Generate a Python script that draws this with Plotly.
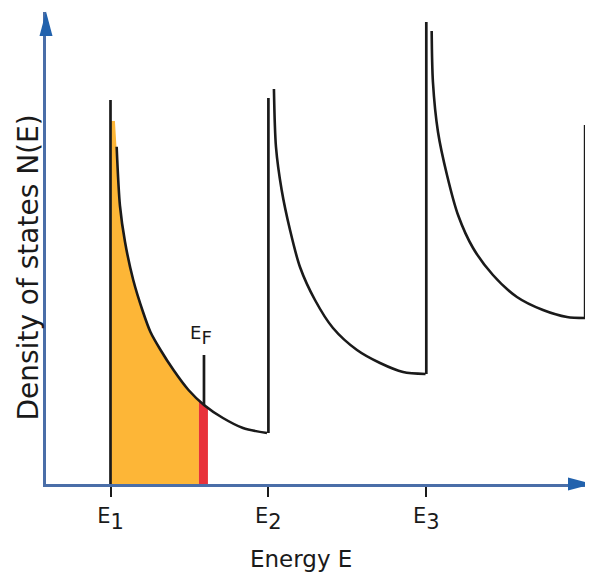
import plotly.graph_objects as go

# ---------------- data ----------------
# subband edges and their tick labels
E_levels = [1.0, 2.0, 3.0]
tick_labels = [
    "<span style='font-size:21px'>E</span><sub>1</sub>",
    "<span style='font-size:21px'>E</span><sub>2</sub>",
    "<span style='font-size:21px'>E</span><sub>3</sub>",
]

# vertical jumps of N(E) at each band edge (bottom -> top)
step_bottom = [0.0, 0.51, 1.10]
step_top = [3.84, 3.86, 4.62]
# closing vertical at the right end
E_end = 4.006
end_bottom = 1.66
end_top = 3.59

# decaying branches of N(E)
curve1_E = [1.039, 1.060, 1.092, 1.144, 1.206, 1.253, 1.317, 1.399, 1.494, 1.592, 1.712, 1.839, 1.991]
curve1_N = [3.373, 2.78, 2.42, 2.04, 1.72, 1.52, 1.34, 1.14, 0.94, 0.79, 0.66, 0.56, 0.51]

curve2_E = [2.035, 2.048, 2.084, 2.137, 2.200, 2.295, 2.409, 2.561, 2.707, 2.853, 2.995]
curve2_N = [3.95, 3.37, 2.94, 2.54, 2.17, 1.84, 1.56, 1.34, 1.21, 1.12, 1.10]

curve3_E = [3.034, 3.042, 3.074, 3.131, 3.201, 3.296, 3.422, 3.574, 3.739, 3.891, 4.005]
curve3_N = [4.53, 4.02, 3.52, 3.09, 2.69, 2.36, 2.09, 1.87, 1.74, 1.67, 1.66]

# Fermi level
E_F = 1.592
EF_marker_top = 1.29
EF_marker_bottom = 0.79

# filled (occupied) states
fill_top_N = 3.63
fill_top_E_right = 1.028
red_left_E, red_right_E = 1.560, 1.617
red_left_N, red_right_N = 0.83, 0.77

# ---------------- layout constants (page pixels) ----------------
OFF = 8                      # the page body margin that offsets the figure
PAGE_W, PAGE_H = 593, 572
AX_X, AX_Y = 46, 484         # where the axes meet on the page
TIP_X, TIP_Y = 592, 12       # arrow tips on the page
L = AX_X - OFF
T = TIP_Y - OFF
PW = TIP_X - AX_X
PH = AX_Y - TIP_Y
W = L + PW + 1
H = PAGE_H - OFF
B = H - T - PH
X_RANGE = [0.5915, 4.0494]
Y_RANGE = [0.0, 4.72]

AXIS_BLUE = "#4a6ea8"
ARROW_BLUE = "#2262ad"
INK = "#1a1a1a"
ORANGE = "#fdb637"
RED = "#e8323a"
FONT = "DejaVu Sans"


def px(xp, yp):
    """page pixel -> paper coordinates"""
    return (xp - AX_X) / PW, (AX_Y - yp) / PH


fig = go.Figure()

# orange occupied area
ox = [E_levels[0], E_levels[0], fill_top_E_right]
oy = [0.0, fill_top_N, fill_top_N]
for e, n in zip(curve1_E, curve1_N):
    if e < red_left_E:
        ox.append(e)
        oy.append(n)
ox += [red_left_E, red_left_E]
oy += [red_left_N, 0.0]
fig.add_trace(go.Scatter(x=ox, y=oy, fill="toself", fillcolor=ORANGE,
                         mode="lines", line=dict(width=0), hoverinfo="skip"))

# red strip at the Fermi level
fig.add_trace(go.Scatter(
    x=[red_left_E, red_left_E, E_F, red_right_E, red_right_E],
    y=[0.0, red_left_N, EF_marker_bottom, red_right_N, 0.0],
    fill="toself", fillcolor=RED, mode="lines", line=dict(width=0), hoverinfo="skip"))

# vertical jumps
vx, vy = [], []
for e, b, t in zip(E_levels, step_bottom, step_top):
    vx += [e, e, None]
    vy += [b, t, None]
vx += [E_end, E_end, None]
vy += [end_bottom, end_top, None]
vx += [E_F, E_F]
vy += [EF_marker_bottom, EF_marker_top]
fig.add_trace(go.Scatter(x=vx, y=vy, mode="lines",
                         line=dict(color=INK, width=2.7), hoverinfo="skip"))

# decaying branches
for ce, cn in [(curve1_E, curve1_N), (curve2_E, curve2_N), (curve3_E, curve3_N)]:
    fig.add_trace(go.Scatter(x=ce, y=cn, mode="lines",
                             line=dict(color=INK, width=2.6, shape="spline", smoothing=0.8),
                             hoverinfo="skip"))

# arrowheads
x0, y0 = px(592, 484)
xa, ya1 = px(568, 477.5)
_, ya2 = px(568, 490.5)
xt, yt = px(46, 11.5)
xb1, yb = px(39.5, 36)
xb2, _ = px(52.5, 36)
shapes = [
    dict(type="path", xref="paper", yref="paper",
         path=f"M {x0} {y0} L {xa} {ya1} L {xa} {ya2} Z",
         fillcolor=ARROW_BLUE, line=dict(width=0)),
    dict(type="path", xref="paper", yref="paper",
         path=f"M {xt} {yt} L {xb1} {yb} L {xb2} {yb} Z",
         fillcolor=ARROW_BLUE, line=dict(width=0)),
]

annotations = [
    dict(text="<span style='font-size:18px'>E</span><sub>F</sub>",
         x=E_F, xref="x", xshift=-3, y=px(0, 335)[1], yref="paper", yanchor="middle",
         showarrow=False, font=dict(family=FONT, size=26, color=INK)),
    dict(text="Energy E", x=px(301, 0)[0], xref="paper", y=px(0, 559)[1], yref="paper",
         yanchor="middle", showarrow=False, font=dict(family=FONT, size=23, color=INK)),
    dict(text="Density of states N(E)", textangle=-90,
         x=px(27.5, 0)[0], xref="paper", y=px(0, 268)[1], yref="paper",
         xanchor="center", yanchor="middle", showarrow=False,
         font=dict(family=FONT, size=28, color=INK)),
]

fig.update_layout(
    width=W, height=H,
    margin=dict(l=L, r=W - L - PW, t=T, b=B, autoexpand=False),
    paper_bgcolor="white", plot_bgcolor="white",
    showlegend=False,
    shapes=shapes, annotations=annotations,
    xaxis=dict(range=X_RANGE, showgrid=False, zeroline=False,
               showline=True, linecolor=AXIS_BLUE, linewidth=2.5,
               tickmode="array", tickvals=E_levels, ticktext=tick_labels,
               ticks="outside", ticklen=10, tickwidth=2, tickcolor=INK,
               ticklabelstandoff=-10,
               tickfont=dict(family=FONT, size=30, color=INK)),
    yaxis=dict(range=Y_RANGE, showgrid=False, zeroline=False,
               showline=True, linecolor=AXIS_BLUE, linewidth=2.5,
               showticklabels=False, ticks=""),
)

fig.write_html("out.html")
